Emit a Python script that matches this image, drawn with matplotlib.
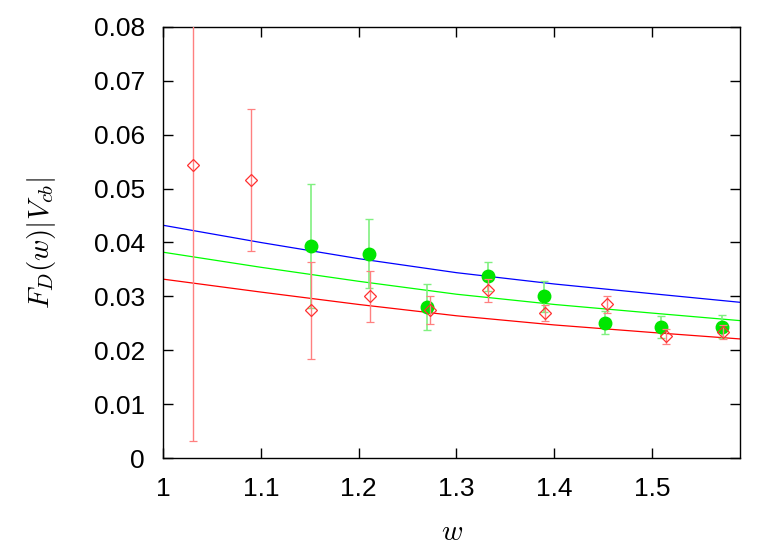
import matplotlib
matplotlib.use("Agg")
import matplotlib.pyplot as plt

plt.rcParams['font.family'] = ['Liberation Sans', 'DejaVu Sans']
plt.rcParams['mathtext.fontset'] = 'cm'

# red open diamonds (with error bars)
w_red = [1.031, 1.090, 1.151, 1.212, 1.273, 1.332, 1.391, 1.454, 1.514, 1.573]
f_red = [0.0543, 0.0516, 0.0274, 0.0300, 0.0274, 0.0311, 0.0269, 0.0285, 0.0226, 0.0233]
e_red = [0.0511, 0.0132, 0.0090, 0.0047, 0.0026, 0.0021, 0.0015, 0.0015, 0.0014, 0.0013]

# green filled circles (with error bars)
w_grn = [1.151, 1.211, 1.270, 1.332, 1.390, 1.452, 1.509, 1.571]
f_grn = [0.0393, 0.0379, 0.0280, 0.0337, 0.0300, 0.0251, 0.0243, 0.0244]
e_grn = [0.0115, 0.0064, 0.0043, 0.0027, 0.0029, 0.0021, 0.0021, 0.0021]

# fit curves
w_fit = [1.0, 1.1, 1.2, 1.3, 1.4, 1.5, 1.59]
f_blue = [0.0432, 0.0400, 0.0370, 0.0344, 0.0323, 0.0305, 0.0289]
f_green = [0.0382, 0.0354, 0.0328, 0.0304, 0.0285, 0.0269, 0.0255]
f_redfit = [0.0332, 0.0308, 0.0285, 0.0264, 0.0247, 0.0233, 0.0221]

fig = plt.figure(figsize=(7.59, 5.45), dpi=100)
ax = fig.add_axes([0.2148, 0.1596, 0.7603, 0.7909])

ax.plot(w_fit, f_blue, color='#0000ff', lw=0.9)
ax.plot(w_fit, f_green, color='#00ff00', lw=0.9)
ax.plot(w_fit, f_redfit, color='#ff0000', lw=0.9)

ax.errorbar(w_grn, f_grn, yerr=e_grn, fmt='o', color='#00e600', ms=9,
            ecolor='#80f080', elinewidth=1.2, capsize=3, capthick=1.0, zorder=3)
ax.errorbar(w_red, f_red, yerr=e_red, fmt='D', color='#ff3030', ms=6,
            mfc='none', mew=0.9, ecolor='#ff8080', elinewidth=1.0,
            capsize=3, capthick=1.0, zorder=4)

ax.set_xlim(1.0, 1.59)
ax.set_ylim(0, 0.08)
ax.set_xticks([1.0, 1.1, 1.2, 1.3, 1.4, 1.5])
ax.set_xticklabels(['1', '1.1', '1.2', '1.3', '1.4', '1.5'])
ax.set_yticks([0, 0.01, 0.02, 0.03, 0.04, 0.05, 0.06, 0.07, 0.08])
ax.set_yticklabels(['0', '0.01', '0.02', '0.03', '0.04', '0.05', '0.06', '0.07', '0.08'])
ax.tick_params(direction='in', top=True, right=True, length=7, width=1.0,
               labelsize=19)
ax.tick_params(axis='y', pad=13)
ax.tick_params(axis='x', pad=14)
for s in ax.spines.values():
    s.set_linewidth(1.0)

ax.set_xlabel(r'$w$', fontsize=21, labelpad=12)
ax.set_ylabel(r'$F_D(w)|V_{cb}|$', fontsize=21, labelpad=26)

fig.savefig('out.png', dpi=100)
